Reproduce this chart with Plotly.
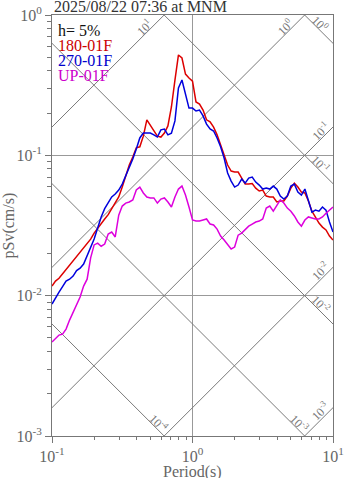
import numpy as np
import plotly.graph_objects as go

# Response spectrum (h = 5%), period grid in seconds
periods = [0.1, 0.1059, 0.1122, 0.1189, 0.1259, 0.1334, 0.1413, 0.1496, 0.1585, 0.1679,
           0.1778, 0.1884, 0.1995, 0.2113, 0.2239, 0.2371, 0.2512, 0.2661, 0.2818, 0.2985,
           0.3162, 0.3350, 0.3548, 0.3758, 0.3981, 0.4217, 0.4467, 0.4732, 0.5012, 0.5309,
           0.5623, 0.5957, 0.6310, 0.6683, 0.7079, 0.7499, 0.7943, 0.8414, 0.8913, 0.9441,
           1.0, 1.059, 1.122, 1.189, 1.259, 1.334, 1.413, 1.496, 1.585, 1.679,
           1.778, 1.884, 1.995, 2.113, 2.239, 2.371, 2.512, 2.661, 2.818, 2.985,
           3.162, 3.350, 3.548, 3.758, 3.981, 4.217, 4.467, 4.732, 5.012, 5.309,
           5.623, 5.957, 6.310, 6.683, 7.079, 7.499, 7.943, 8.414, 8.913, 9.441, 10.0]

# Pseudo-velocity response (cm/s)
psv_180 = [0.0117, 0.0127, 0.0133, 0.0143, 0.0152, 0.0164, 0.0176, 0.0190, 0.0204, 0.0218,
           0.0235, 0.0253, 0.0279, 0.0303, 0.0326, 0.0352, 0.0378, 0.0414, 0.0457, 0.0505,
           0.0594, 0.0724, 0.0853, 0.0972, 0.113, 0.115, 0.137, 0.179, 0.164, 0.147,
           0.137, 0.135, 0.144, 0.162, 0.221, 0.344, 0.519, 0.494, 0.379, 0.356,
           0.338, 0.240, 0.232, 0.210, 0.179, 0.173, 0.159, 0.140, 0.118, 0.0989,
           0.0853, 0.0773, 0.0760, 0.0760, 0.0689, 0.0624, 0.0624, 0.0629, 0.0584, 0.0557,
           0.0566, 0.0513, 0.0505, 0.0505, 0.0465, 0.0473, 0.0473, 0.0513, 0.0584, 0.0634,
           0.0594, 0.0547, 0.0539, 0.0473, 0.0400, 0.0358, 0.0329, 0.0308, 0.0294, 0.0266, 0.0249]

psv_270 = [0.00871, 0.00969, 0.0106, 0.0116, 0.0127, 0.0131, 0.0138, 0.0151, 0.0157, 0.0168,
           0.0194, 0.0218, 0.0253, 0.0303, 0.0364, 0.0417, 0.0457, 0.0505, 0.0530, 0.0566,
           0.0624, 0.0712, 0.0812, 0.0941, 0.111, 0.133, 0.144, 0.144, 0.144, 0.140,
           0.135, 0.152, 0.154, 0.140, 0.144, 0.176, 0.302, 0.344, 0.273, 0.217,
           0.217, 0.207, 0.210, 0.191, 0.167, 0.154, 0.149, 0.133, 0.115, 0.0957,
           0.0748, 0.0655, 0.0594, 0.0614, 0.0678, 0.0634, 0.0689, 0.0700, 0.0645, 0.0614,
           0.0575, 0.0584, 0.0575, 0.0604, 0.0575, 0.0513, 0.0488, 0.0513, 0.0604, 0.0624,
           0.0547, 0.0521, 0.0575, 0.0473, 0.0394, 0.0407, 0.0400, 0.0428, 0.0407, 0.0335, 0.0284]

psv_up = [0.00467, 0.00491, 0.00524, 0.00532, 0.00578, 0.00670, 0.00758, 0.00844, 0.00977, 0.0117,
          0.0131, 0.0186, 0.0230, 0.0237, 0.0225, 0.0233, 0.0275, 0.0284, 0.0262, 0.0375,
          0.0435, 0.0457, 0.0465, 0.0481, 0.0566, 0.0594, 0.0539, 0.0505, 0.0497, 0.0497,
          0.0457, 0.0488, 0.0497, 0.0465, 0.0428, 0.0505, 0.0575, 0.0604, 0.0521, 0.0428,
          0.0346, 0.0340, 0.0340, 0.0346, 0.0352, 0.0324, 0.0319, 0.0298, 0.0266, 0.0249,
          0.0233, 0.0215, 0.0222, 0.0270, 0.0279, 0.0294, 0.0313, 0.0324, 0.0335, 0.0340,
          0.0352, 0.0421, 0.0435, 0.0400, 0.0443, 0.0481, 0.0457, 0.0421, 0.0400, 0.0370,
          0.0335, 0.0313, 0.0346, 0.0364, 0.0358, 0.0352, 0.0352, 0.0364, 0.0387, 0.0407, 0.0428]

series_names = ["180-01F", "270-01F", "UP-01F"]
series_colors = ["#dd0000", "#0000dd", "#dd00dd"]
label_colors = ["#cc0000", "#0000cc", "#cc00cc"]

# Tripartite guide levels
sd_levels = [1e-4, 1e-3, 1e-2, 1e-1, 1.0]   # displacement (cm)
sa_levels = [1e-3, 1e-2, 1e-1, 1.0, 10.0]   # acceleration (cm/s^2)
level_labels = {1e-4: "10<sup>-4</sup>", 1e-3: "10<sup>-3</sup>", 1e-2: "10<sup>-2</sup>",
                1e-1: "10<sup>-1</sup>", 1.0: "10<sup>0</sup>", 10.0: "10<sup>1</sup>"}

T_MIN, T_MAX = 0.1, 10.0
V_MIN, V_MAX = 1e-3, 1.0
SERIF = "Liberation Serif, Times New Roman, serif"
GUIDE = "#7a7a7a"

fig = go.Figure()
annotations = []
t_ends = np.array([0.01, 100.0])

for sd in sd_levels:
    fig.add_trace(go.Scatter(x=t_ends, y=2 * np.pi * sd / t_ends, mode="lines",
                             line=dict(color=GUIDE, width=1), hoverinfo="skip", showlegend=False))
    v_right = 2 * np.pi * sd / T_MAX
    if v_right >= V_MIN:
        xe, ye, dx, dy = T_MAX, v_right, -13, 20
    else:
        xe, ye, dx, dy = 2 * np.pi * sd / V_MIN, V_MIN, -5, 13
    annotations.append(dict(x=np.log10(xe), y=np.log10(ye), xref="x", yref="y",
                            text=level_labels[sd], showarrow=False, textangle=45,
                            xshift=dx, yshift=dy,
                            font=dict(family=SERIF, size=12, color="#777")))

for sa in sa_levels:
    fig.add_trace(go.Scatter(x=t_ends, y=sa * t_ends / (2 * np.pi), mode="lines",
                             line=dict(color=GUIDE, width=1), hoverinfo="skip", showlegend=False))
    t_top = 2 * np.pi * V_MAX / sa
    if t_top <= T_MAX:
        xe, ye, dx, dy = t_top, V_MAX, -20, -12
    else:
        xe, ye, dx, dy = T_MAX, sa * T_MAX / (2 * np.pi), -13, -4
    annotations.append(dict(x=np.log10(xe), y=np.log10(ye), xref="x", yref="y",
                            text=level_labels[sa], showarrow=False, textangle=-45,
                            xshift=dx, yshift=dy,
                            font=dict(family=SERIF, size=12, color="#777")))

for name, vals, col in zip(series_names, [psv_180, psv_270, psv_up], series_colors):
    fig.add_trace(go.Scatter(x=periods, y=vals, mode="lines", name=name,
                             line=dict(color=col, width=1.5), showlegend=False))

# Title and component labels
annotations.append(dict(x=0, y=1, xref="paper", yref="paper", xanchor="left", yanchor="bottom",
                        yshift=-2, text="2025/08/22 07:36 at MNM", showarrow=False,
                        font=dict(family=SERIF, size=16, color="#333")))
legend_rows = [("h= 5%", "#111")] + list(zip(series_names, label_colors))
for i, (txt, col) in enumerate(legend_rows):
    annotations.append(dict(x=0, y=1, xref="paper", yref="paper", xanchor="left", yanchor="middle",
                            xshift=4, yshift=-15 - 15 * i, text=txt, showarrow=False,
                            font=dict(family=SERIF, size=16, color=col)))

# Axis titles
annotations.append(dict(x=0.5, y=0, xref="paper", yref="paper", xanchor="center", yanchor="middle",
                        yshift=-36, text="Period(s)", showarrow=False,
                        font=dict(family=SERIF, size=16, color="#666")))
annotations.append(dict(x=0, y=0.5, xref="paper", yref="paper", xanchor="center", yanchor="middle",
                        xshift=-44, text="pSv(cm/s)", showarrow=False, textangle=-90,
                        font=dict(family=SERIF, size=16, color="#666")))

minor_x = [m * 10.0 ** e for e in (-1, 0) for m in range(2, 10)]
minor_y = [m * 10.0 ** e for e in (-3, -2, -1) for m in range(2, 10)]

axis_common = dict(type="log", showline=True, linecolor="#777", linewidth=1, mirror=True,
                   showgrid=True, gridcolor="#999", gridwidth=1, ticks="outside", ticklen=6,
                   tickcolor="#777", tickfont=dict(family=SERIF, size=16, color="#666"),
                   zeroline=False, automargin=False)

fig.update_layout(
    width=347, height=478,
    margin=dict(l=52, r=14, t=15, b=42),
    paper_bgcolor="white", plot_bgcolor="white",
    showlegend=False,
    xaxis=dict(range=[np.log10(T_MIN), np.log10(T_MAX)], tickvals=[0.1, 1, 10],
               ticktext=["10<sup>-1</sup>", "10<sup>0</sup>", "10<sup>1</sup>"],
               minor=dict(tickvals=minor_x, ticks="outside", ticklen=3, tickcolor="#777",
                          showgrid=False),
               **axis_common),
    yaxis=dict(range=[np.log10(V_MIN), np.log10(V_MAX)], tickvals=[0.001, 0.01, 0.1, 1],
               ticktext=["10<sup>-3</sup>", "10<sup>-2</sup>", "10<sup>-1</sup>", "10<sup>0</sup>"],
               minor=dict(tickvals=minor_y, ticks="outside", ticklen=4, tickcolor="#777",
                          showgrid=False),
               **axis_common),
    annotations=annotations,
)

fig.write_html("out.html")
